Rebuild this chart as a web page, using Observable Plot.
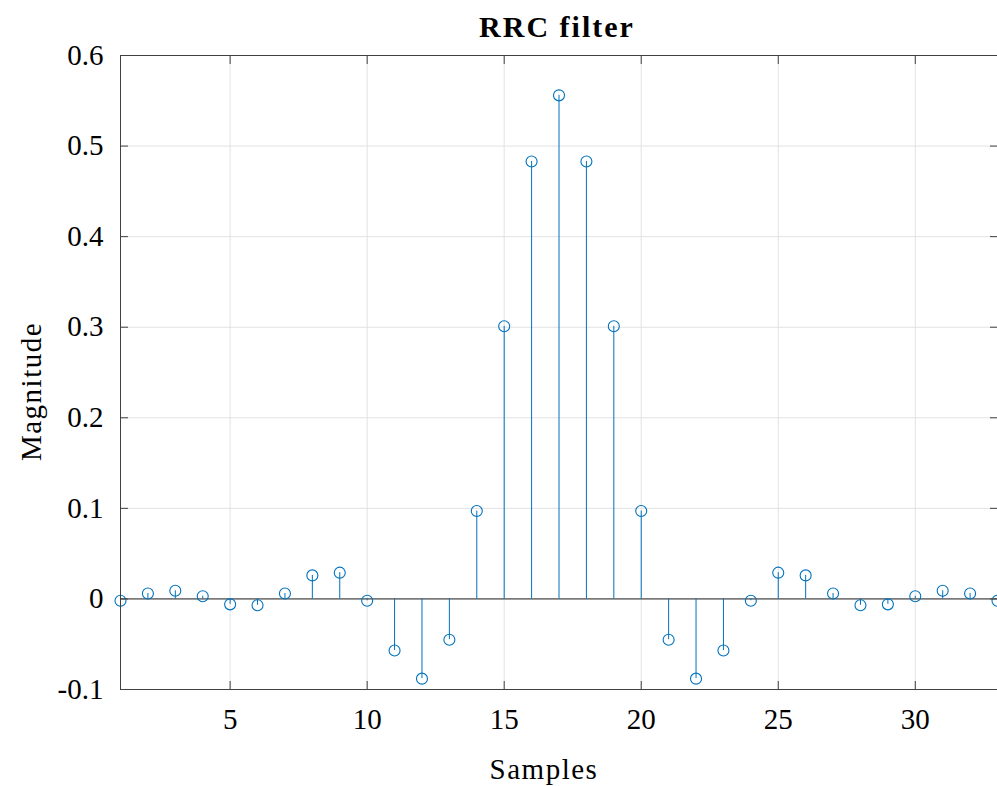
<!DOCTYPE html>
<html>
<head>
<meta charset="utf-8">
<script src="https://cdn.jsdelivr.net/npm/d3@7"></script>
<script src="https://cdn.jsdelivr.net/npm/@observablehq/plot@0.6"></script>
<style>
  html, body { margin: 0; padding: 0; background: #fff; }
  #chart svg { display: block; }
</style>
</head>
<body>
<div id="chart"></div>
<script>
const samples = [1,2,3,4,5,6,7,8,9,10,11,12,13,14,15,16,17,18,19,20,21,22,23,24,25,26,27,28,29,30,31,32,33];
const magnitude = [-0.002,0.006,0.009,0.003,-0.006,-0.007,0.006,0.026,0.029,-0.002,-0.057,-0.088,-0.045,0.097,0.301,0.483,0.556,0.483,0.301,0.097,-0.045,-0.088,-0.057,-0.002,0.029,0.026,0.006,-0.007,-0.006,0.003,0.009,0.006,-0.002];
const xTicks = [5,10,15,20,25,30];
const yTicks = [-0.1,0,0.1,0.2,0.3,0.4,0.5,0.6];
const titleText = "RRC filter";
const xLabel = "Samples";
const yLabel = "Magnitude";

const data = samples.map((n, i) => ({n, v: magnitude[i]}));
const blue = "#0072BD";
const axisColor = "#404040";
const fmtY = d => (d === 0 ? "0" : (+d.toFixed(1)).toString());

const chart = Plot.plot({
  width: 997,
  height: 786,
  marginTop: 55,
  marginBottom: 97,
  marginLeft: 120,
  marginRight: 0,
  style: {fontFamily: "'Liberation Serif', serif", fontSize: "29px", background: "#fff", color: "#000", overflow: "visible"},
  x: {domain: [1, 33]},
  y: {domain: [-0.1, 0.6]},
  marks: [
    Plot.gridX(xTicks, {stroke: "#e2e2e2", strokeOpacity: 1}),
    Plot.gridY(yTicks, {stroke: "#e2e2e2", strokeOpacity: 1}),
    Plot.ruleY([0], {stroke: "#262626", strokeWidth: 1}),
    Plot.ruleX(data, {x: "n", y1: 0, y2: "v", stroke: blue, strokeWidth: 1}),
    Plot.dot(data, {x: "n", y: "v", r: 5.5, stroke: blue, strokeWidth: 1.1, fill: "none"}),
    Plot.frame({stroke: axisColor, strokeWidth: 1}),
    Plot.axisX(xTicks, {anchor: "bottom", tickSize: -8, tickPadding: 27, tickFormat: d => String(d), stroke: axisColor, fill: "#000", label: null}),
    Plot.axisX(xTicks, {anchor: "top", tickSize: -8, tickFormat: () => "", stroke: axisColor, label: null}),
    Plot.axisY(yTicks, {anchor: "left", tickSize: -8, tickPadding: 25, tickFormat: fmtY, stroke: axisColor, fill: "#000", label: null}),
    Plot.axisY(yTicks, {anchor: "right", tickSize: -8, tickFormat: () => "", stroke: axisColor, label: null}),
    Plot.text([titleText], {text: d => d, frameAnchor: "top", lineAnchor: "middle", textAnchor: "middle", dy: -28, dx: -2, fontWeight: "bold", fontSize: 30, fill: "#000"}),
    Plot.text([xLabel], {text: d => d, frameAnchor: "bottom", lineAnchor: "middle", textAnchor: "middle", dy: 80, dx: -15, fill: "#000"}),
    Plot.text([yLabel], {text: d => d, frameAnchor: "left", lineAnchor: "middle", textAnchor: "middle", rotate: -90, dx: -89, dy: 19, fill: "#000"})
  ]
});
d3.select(chart).selectAll("text").each(function() {
  const t = this.textContent;
  if (t === titleText) this.style.letterSpacing = "2px";
  if (t === xLabel || t === yLabel) this.style.letterSpacing = "1.5px";
});
document.getElementById("chart").appendChild(chart);
</script>
</body>
</html>
